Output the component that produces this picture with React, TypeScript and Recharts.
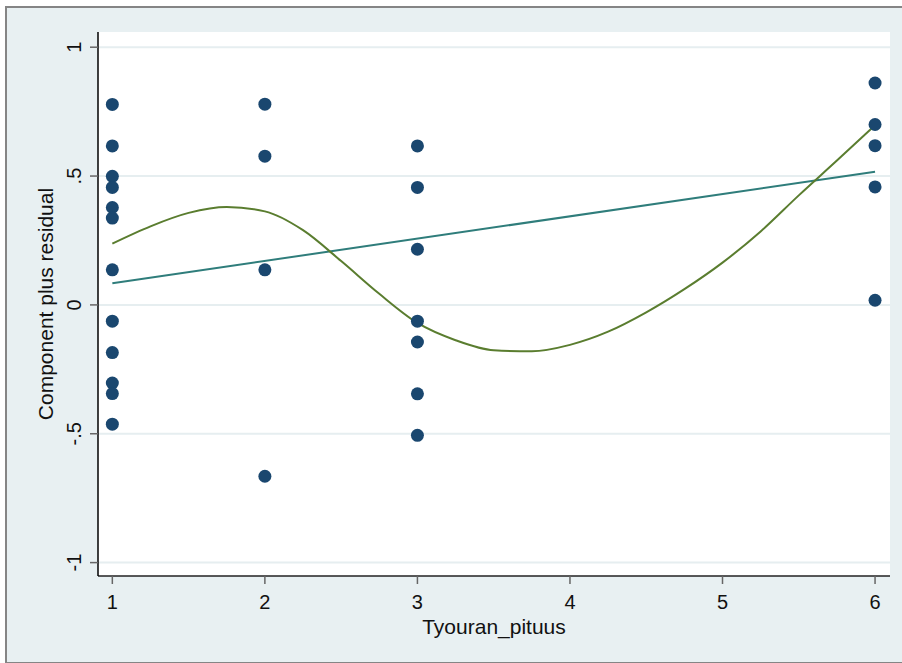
import React from "react";
import {
  CartesianGrid,
  ComposedChart,
  Line,
  Scatter,
  XAxis,
  YAxis,
} from "recharts";

// component-plus-residual points by job-length group
const residualPoints = [
  { x: 1, y: 0.778 },
  { x: 1, y: 0.617 },
  { x: 1, y: 0.499 },
  { x: 1, y: 0.456 },
  { x: 1, y: 0.378 },
  { x: 1, y: 0.337 },
  { x: 1, y: 0.136 },
  { x: 1, y: -0.063 },
  { x: 1, y: -0.185 },
  { x: 1, y: -0.303 },
  { x: 1, y: -0.344 },
  { x: 1, y: -0.463 },
  { x: 2, y: 0.779 },
  { x: 2, y: 0.577 },
  { x: 2, y: 0.136 },
  { x: 2, y: -0.665 },
  { x: 3, y: 0.617 },
  { x: 3, y: 0.456 },
  { x: 3, y: 0.216 },
  { x: 3, y: -0.063 },
  { x: 3, y: -0.144 },
  { x: 3, y: -0.345 },
  { x: 3, y: -0.506 },
  { x: 6, y: 0.861 },
  { x: 6, y: 0.7 },
  { x: 6, y: 0.618 },
  { x: 6, y: 0.458 },
  { x: 6, y: 0.018 },
];

// linear component fit
const linearFit = [
  { x: 1, y: 0.084 },
  { x: 6, y: 0.517 },
];

// smoothed curve
const smoothFit = [
  { x: 1.0, y: 0.238 },
  { x: 1.25, y: 0.305 },
  { x: 1.5, y: 0.357 },
  { x: 1.75, y: 0.38 },
  { x: 2.0, y: 0.363 },
  { x: 2.25, y: 0.29 },
  { x: 2.5, y: 0.17 },
  { x: 2.75, y: 0.043 },
  { x: 3.0, y: -0.07 },
  { x: 3.25, y: -0.137 },
  { x: 3.5, y: -0.176 },
  { x: 3.75, y: -0.18 },
  { x: 4.0, y: -0.155 },
  { x: 4.25, y: -0.104 },
  { x: 4.5, y: -0.029 },
  { x: 4.75, y: 0.061 },
  { x: 5.0, y: 0.164 },
  { x: 5.25, y: 0.285 },
  { x: 5.5, y: 0.425 },
  { x: 5.75, y: 0.56 },
  { x: 6.0, y: 0.697 },
];

const xTicks = [1, 2, 3, 4, 5, 6];
const yTicks = [-1, -0.5, 0, 0.5, 1];
const yTickLabels = ["-1", "-.5", "0", ".5", "1"];

const FONT = "'Liberation Sans', Arial, Helvetica, sans-serif";

const XTick = (props: any) => {
  const { x, y, payload } = props;
  return (
    <text x={x} y={y + 23} textAnchor="middle" fontSize={20} fontFamily={FONT} fill="#111">
      {payload.value}
    </text>
  );
};

const YTick = (props: any) => {
  const { y, payload } = props;
  const bx = 81;
  const idx = yTicks.indexOf(payload.value);
  return (
    <text
      x={bx}
      y={y}
      transform={`rotate(-90, ${bx}, ${y})`}
      textAnchor="middle"
      fontSize={20}
      fontFamily={FONT}
      fill="#111"
    >
      {idx >= 0 ? yTickLabels[idx] : payload.value}
    </text>
  );
};

const Dot = (props: any) => (
  <circle cx={props.cx} cy={props.cy} r={6.5} fill="#1a476f" />
);

export default function App() {
  return (
    <div style={{ position: "absolute", left: 0, top: 0, width: 902, height: 663, background: "#fff" }}>
      <div
        style={{
          position: "absolute",
          left: 5,
          top: 6,
          width: 905,
          height: 654,
          background: "#e8f0f2",
          borderLeft: "2px solid #858585",
          borderTop: "2px solid #858585",
          borderBottom: "1px solid #858585",
        }}
      />
      <div style={{ position: "absolute", left: 0, top: 0 }}>
        <ComposedChart
          width={902}
          height={663}
          margin={{ top: 32, right: 12, bottom: 0, left: 0 }}
        >
          <CartesianGrid
            vertical={false}
            horizontalValues={yTicks}
            stroke="#e6eef0"
            strokeWidth={2}
            fill="#ffffff"
            fillOpacity={1}
          />
          <XAxis
            dataKey="x"
            type="number"
            domain={[0.906, 6.098]}
            ticks={xTicks}
            allowDataOverflow
            height={87}
            tickSize={8}
            tick={<XTick />}
            axisLine={{ stroke: "#222", strokeWidth: 1.5 }}
            tickLine={{ stroke: "#666", strokeWidth: 1.5 }}
            label={{
              value: "Tyouran_pituus",
              position: "insideTop",
              offset: 43,
              fontSize: 21,
              fontFamily: FONT,
              fill: "#111",
            }}
          />
          <YAxis
            dataKey="y"
            type="number"
            domain={[-1.052, 1.059]}
            ticks={yTicks}
            allowDataOverflow
            width={98}
            tickSize={8}
            tick={<YTick />}
            axisLine={{ stroke: "#000", strokeWidth: 1.5 }}
            tickLine={{ stroke: "#666", strokeWidth: 1.5 }}
            label={{
              value: "Component plus residual",
              angle: -90,
              position: "insideLeft",
              content: (p: any) => {
                const vb = p.viewBox;
                const cy = vb.y + vb.height / 2;
                return (
                  <text
                    x={53}
                    y={cy}
                    transform={`rotate(-90, 53, ${cy})`}
                    textAnchor="middle"
                    fontSize={21}
                    fontFamily={FONT}
                    fill="#111"
                  >
                    Component plus residual
                  </text>
                );
              },
            }}
          />
          <Scatter
            data={residualPoints}
            dataKey="y"
            shape={<Dot />}
            isAnimationActive={false}
          />
          <Line
            data={linearFit}
            dataKey="y"
            type="linear"
            stroke="#2f7d7b"
            strokeWidth={2}
            dot={false}
            activeDot={false}
            isAnimationActive={false}
          />
          <Line
            data={smoothFit}
            dataKey="y"
            type="monotone"
            stroke="#5a7d2f"
            strokeWidth={2}
            dot={false}
            activeDot={false}
            isAnimationActive={false}
          />
        </ComposedChart>
      </div>
    </div>
  );
}
